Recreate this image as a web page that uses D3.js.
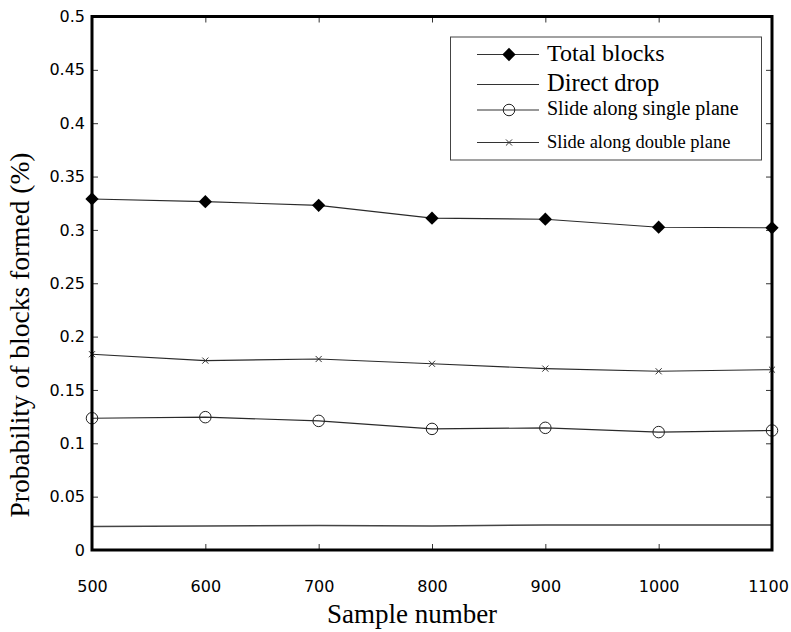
<!DOCTYPE html>
<html>
<head>
<meta charset="utf-8">
<script src="https://cdn.jsdelivr.net/npm/d3@7"></script>
<style>
  body { margin: 0; background: #fff; }
  svg { display: block; }
</style>
</head>
<body>
<div id="chart"></div>
<script>
// values
const samples = [500, 600, 700, 800, 900, 1000, 1100];
const totalBlocks = [0.329, 0.3265, 0.323, 0.311, 0.310, 0.3025, 0.302];
const directDrop = [0.022, 0.0225, 0.023, 0.0225, 0.0235, 0.0235, 0.0235];
const singlePlane = [0.1235, 0.1245, 0.121, 0.1135, 0.1145, 0.1105, 0.112];
const doublePlane = [0.1835, 0.1775, 0.179, 0.1745, 0.170, 0.1675, 0.169];

const xTicks = [500, 600, 700, 800, 900, 1000, 1100];
const xTickLabels = ["500", "600", "700", "800", "900", "1000", "1100"];
const yTicks = [0, 0.05, 0.1, 0.15, 0.2, 0.25, 0.3, 0.35, 0.4, 0.45, 0.5];
const yTickLabels = ["0", "0.05", "0.1", "0.15", "0.2", "0.25", "0.3", "0.35", "0.4", "0.45", "0.5"];

const seriesNames = ["Total blocks", "Direct drop", "Slide along single plane", "Slide along double plane"];

const width = 791, height = 632;
const margin = { top: 16.5, right: 19, bottom: 82, left: 92 };

const svg = d3.select("#chart").append("svg")
    .attr("width", width)
    .attr("height", height);

const x = d3.scaleLinear()
    .domain([500, 1100])
    .range([margin.left, width - margin.right]);

const y = d3.scaleLinear()
    .domain([0, 0.5])
    .range([height - margin.bottom, margin.top]);

const tickFont = "'DejaVu Sans', Verdana, sans-serif";
const serif = "'Liberation Serif', 'Times New Roman', serif";

// axes with inward ticks
const bottomAxis = svg.append("g")
    .attr("transform", `translate(0,${y(0)})`)
    .call(d3.axisBottom(x).tickValues(xTicks).tickSize(-6).tickPadding(31)
        .tickFormat((d, i) => xTickLabels[i]));
const leftAxis = svg.append("g")
    .attr("transform", `translate(${x(500)},0)`)
    .call(d3.axisLeft(y).tickValues(yTicks).tickSize(-6).tickPadding(7)
        .tickFormat((d, i) => yTickLabels[i]));
const topAxis = svg.append("g")
    .attr("transform", `translate(0,${y(0.5)})`)
    .call(d3.axisTop(x).tickValues(xTicks).tickSize(-6).tickFormat(""));
const rightAxis = svg.append("g")
    .attr("transform", `translate(${x(1100)},0)`)
    .call(d3.axisRight(y).tickValues(yTicks).tickSize(-6).tickFormat(""));

[bottomAxis, leftAxis, topAxis, rightAxis].forEach(a => {
    a.attr("font-size", null).attr("font-family", null);
    a.select(".domain").remove();
    a.selectAll(".tick line").attr("stroke", "#333").attr("stroke-width", 1);
    a.selectAll(".tick text")
        .attr("fill", "#000")
        .style("font-family", tickFont)
        .style("font-size", "16px");
});
// the last label sits a little left of its tick, as in the original
bottomAxis.selectAll(".tick text").filter(d => d === 1100).attr("dx", -4);

// series
const series = [
    { name: seriesNames[0], values: totalBlocks, symbol: "diamond" },
    { name: seriesNames[1], values: directDrop, symbol: "none" },
    { name: seriesNames[2], values: singlePlane, symbol: "circle" },
    { name: seriesNames[3], values: doublePlane, symbol: "x" }
];

const line = d3.line()
    .x((d, i) => x(samples[i]))
    .y(d => y(d));

function drawSymbol(g, type) {
    if (type === "diamond") {
        g.append("path")
            .attr("d", d3.symbol(d3.symbolSquare, 88)())
            .attr("transform", "rotate(45)")
            .attr("fill", "#000");
    } else if (type === "circle") {
        g.append("path")
            .attr("d", d3.symbol(d3.symbolCircle, 104)())
            .attr("fill", "none")
            .attr("stroke", "#222")
            .attr("stroke-width", 1);
    } else if (type === "x") {
        g.append("path")
            .attr("d", d3.symbol(d3.symbolX, 26)())
            .attr("fill", "none")
            .attr("stroke", "#333")
            .attr("stroke-width", 1);
    }
}

series.forEach(s => {
    svg.append("path")
        .datum(s.values)
        .attr("d", line)
        .attr("fill", "none")
        .attr("stroke", s.symbol === "none" ? "#444" : "#2a2a2a")
        .attr("stroke-width", s.symbol === "none" ? 1.4 : 1.1);

    s.values.forEach((v, i) => {
        const g = svg.append("g")
            .attr("transform", `translate(${x(samples[i])},${y(v)})`);
        drawSymbol(g, s.symbol);
    });
});

// frame
svg.append("rect")
    .attr("x", x(500))
    .attr("y", y(0.5))
    .attr("width", x(1100) - x(500))
    .attr("height", y(0) - y(0.5))
    .attr("fill", "none")
    .attr("stroke", "#000")
    .attr("stroke-width", 3);

// legend
const legend = svg.append("g");
legend.append("rect")
    .attr("x", 450.5)
    .attr("y", 37)
    .attr("width", 311)
    .attr("height", 123)
    .attr("fill", "#fff")
    .attr("stroke", "#444")
    .attr("stroke-width", 1);

const legendRows = [
    { lineY: 54.5, textY: 61, size: 24 },
    { lineY: 84.5, textY: 91, size: 24.5 },
    { lineY: 110, textY: 115, size: 20 },
    { lineY: 142.5, textY: 147.5, size: 18.5 }
];

series.forEach((s, i) => {
    const row = legendRows[i];
    legend.append("line")
        .attr("x1", 477).attr("x2", 539)
        .attr("y1", row.lineY).attr("y2", row.lineY)
        .attr("stroke", "#333")
        .attr("stroke-width", 1.2);
    const g = legend.append("g")
        .attr("transform", `translate(509,${row.lineY})`);
    drawSymbol(g, s.symbol);
    legend.append("text")
        .attr("x", 547)
        .attr("y", row.textY)
        .style("font-family", serif)
        .style("font-size", row.size + "px")
        .text(s.name);
});

// axis titles
svg.append("text")
    .attr("x", 412)
    .attr("y", 623)
    .attr("text-anchor", "middle")
    .style("font-family", serif)
    .style("font-size", "27px")
    .text("Sample number");

svg.append("text")
    .attr("transform", "translate(29,335) rotate(-90)")
    .attr("text-anchor", "middle")
    .style("font-family", serif)
    .style("font-size", "27.5px")
    .text("Probability of blocks formed (%)");
</script>
</body>
</html>
